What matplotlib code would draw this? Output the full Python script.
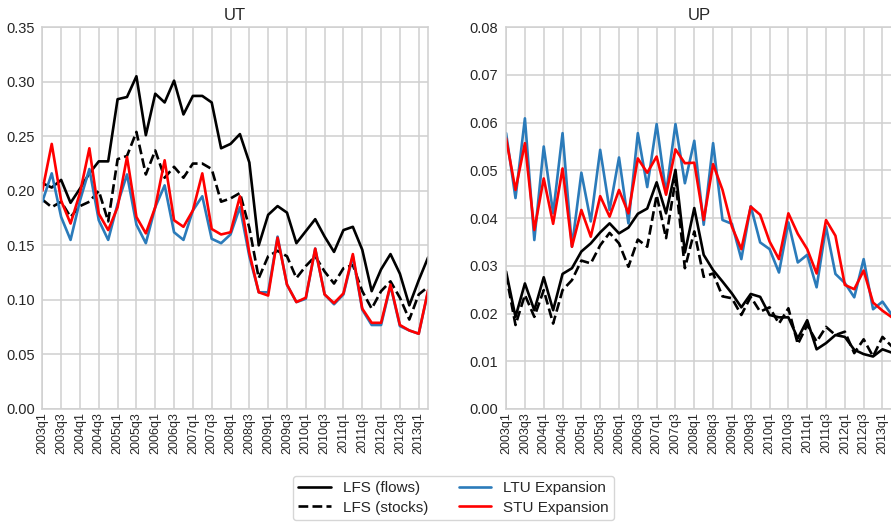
import matplotlib
matplotlib.use("Agg")
import matplotlib.pyplot as plt
import seaborn as sns
import numpy as np
from matplotlib.lines import Line2D

sns.set_style("whitegrid")
plt.rcParams['font.family'] = ['Liberation Sans', 'DejaVu Sans']

quarters = [f"{y}q{q}" for y in range(2003, 2014) for q in range(1, 5)][:42]

ut_lfs_flows = [0.207, 0.203, 0.210, 0.189, 0.202, 0.216, 0.227, 0.227, 0.284, 0.286,
                0.305, 0.251, 0.289, 0.281, 0.301, 0.270, 0.287, 0.287, 0.281, 0.239,
                0.243, 0.252, 0.226, 0.150, 0.178, 0.186, 0.180, 0.152, 0.163, 0.174,
                0.158, 0.144, 0.164, 0.167, 0.146, 0.108, 0.128, 0.142, 0.124, 0.095,
                0.118, 0.139]
ut_lfs_stocks = [0.192, 0.185, 0.190, 0.176, 0.186, 0.190, 0.200, 0.172, 0.229, 0.232,
                 0.254, 0.215, 0.237, 0.212, 0.222, 0.212, 0.225, 0.225, 0.220, 0.190,
                 0.193, 0.198, 0.166, 0.120, 0.140, 0.145, 0.140, 0.120, 0.131, 0.140,
                 0.126, 0.115, 0.129, 0.132, 0.108, 0.092, 0.108, 0.117, 0.102, 0.082,
                 0.105, 0.112]
ut_ltu = [0.190, 0.216, 0.176, 0.155, 0.191, 0.220, 0.173, 0.155, 0.188, 0.215,
          0.169, 0.152, 0.185, 0.205, 0.162, 0.155, 0.182, 0.195, 0.156, 0.152,
          0.160, 0.185, 0.140, 0.107, 0.107, 0.158, 0.114, 0.098, 0.101, 0.147,
          0.105, 0.096, 0.105, 0.140, 0.091, 0.077, 0.077, 0.113, 0.076, 0.072,
          0.069, 0.108]
ut_stu = [0.200, 0.243, 0.191, 0.170, 0.198, 0.239, 0.179, 0.164, 0.185, 0.231,
          0.176, 0.161, 0.185, 0.228, 0.173, 0.167, 0.182, 0.216, 0.165, 0.160,
          0.162, 0.195, 0.143, 0.107, 0.104, 0.157, 0.114, 0.098, 0.102, 0.147,
          0.105, 0.097, 0.106, 0.142, 0.092, 0.079, 0.079, 0.114, 0.077, 0.072,
          0.069, 0.109]

up_lfs_flows = [0.0288, 0.0193, 0.0263, 0.0207, 0.0276, 0.0207, 0.0283, 0.0295, 0.0330, 0.0347,
                0.0370, 0.0389, 0.0368, 0.0380, 0.0409, 0.0420, 0.0475, 0.0410, 0.0501, 0.0328,
                0.0421, 0.0323, 0.0291, 0.0267, 0.0242, 0.0213, 0.0241, 0.0235, 0.0197, 0.0192,
                0.0192, 0.0148, 0.0186, 0.0125, 0.0138, 0.0155, 0.0151, 0.0124, 0.0115, 0.0110,
                0.0125, 0.0118]
up_lfs_stocks = [0.0281, 0.0176, 0.0239, 0.0193, 0.0249, 0.0179, 0.0249, 0.0270, 0.0311, 0.0305,
                 0.0343, 0.0369, 0.0347, 0.0298, 0.0355, 0.0340, 0.0448, 0.0358, 0.0480, 0.0295,
                 0.0372, 0.0277, 0.0284, 0.0236, 0.0232, 0.0197, 0.0235, 0.0204, 0.0213, 0.0179,
                 0.0211, 0.0136, 0.0176, 0.0141, 0.0172, 0.0155, 0.0162, 0.0117, 0.0146, 0.0110,
                 0.0151, 0.0131]
up_ltu = [0.0578, 0.0442, 0.0609, 0.0354, 0.0550, 0.0410, 0.0578, 0.0340, 0.0495, 0.0393,
          0.0543, 0.0417, 0.0527, 0.0389, 0.0578, 0.0465, 0.0597, 0.0452, 0.0597, 0.0473,
          0.0562, 0.0386, 0.0557, 0.0396, 0.0388, 0.0314, 0.0425, 0.0349, 0.0335, 0.0286,
          0.0391, 0.0307, 0.0323, 0.0255, 0.0382, 0.0283, 0.0264, 0.0234, 0.0314, 0.0209,
          0.0225, 0.0197]
up_stu = [0.0567, 0.0459, 0.0557, 0.0375, 0.0483, 0.0388, 0.0504, 0.0340, 0.0417, 0.0361,
          0.0446, 0.0403, 0.0459, 0.0410, 0.0525, 0.0495, 0.0529, 0.0449, 0.0544, 0.0515,
          0.0516, 0.0396, 0.0513, 0.0459, 0.0382, 0.0335, 0.0424, 0.0407, 0.0351, 0.0314,
          0.0410, 0.0367, 0.0335, 0.0284, 0.0396, 0.0363, 0.0260, 0.0251, 0.0290, 0.0223,
          0.0206, 0.0192]

BLUE = '#2b7bba'
RED = '#ff0000'
LW = 1.9

fig = plt.figure(figsize=(8.91, 5.23), dpi=100)
ax1 = fig.add_axes([0.0475, 0.218, 0.433, 0.730])
ax2 = fig.add_axes([0.568, 0.218, 0.433, 0.730])

x = np.arange(len(quarters))

def draw(ax, flows, stocks, ltu, stu, ymax, step, title):
    ax.plot(x, flows, color='black', lw=LW)
    ax.plot(x, stocks, color='black', lw=LW, ls='--')
    ax.plot(x, ltu, color=BLUE, lw=LW)
    ax.plot(x, stu, color=RED, lw=LW)
    ax.set_xlim(0, len(quarters) - 1)
    ax.set_ylim(0, ymax)
    ticks = np.arange(0, ymax + step / 2, step)
    ax.set_yticks(ticks)
    ax.set_yticklabels([f"{v:.2f}" for v in ticks], fontsize=10.5)
    ax.set_xticks(x[::2])
    ax.set_xticklabels(quarters[::2], rotation=90, fontsize=9)
    ax.tick_params(axis='y', pad=5.5, length=0)
    ax.tick_params(axis='x', pad=2, length=0)
    ax.set_title(title, fontsize=12, pad=5)
    ax.grid(True, color='#d0d0d0', lw=1.1)
    for s in ax.spines.values():
        s.set_color('#d0d0d0')
        s.set_linewidth(1.1)

draw(ax1, ut_lfs_flows, ut_lfs_stocks, ut_ltu, ut_stu, 0.35, 0.05, 'UT')
draw(ax2, up_lfs_flows, up_lfs_stocks, up_ltu, up_stu, 0.08, 0.01, 'UP')

handles = [Line2D([], [], color='black', lw=LW),
           Line2D([], [], color='black', lw=LW, ls='--'),
           Line2D([], [], color=BLUE, lw=LW),
           Line2D([], [], color=RED, lw=LW)]
labels = ['LFS (flows)', 'LFS (stocks)', 'LTU Expansion', 'STU Expansion']
fig.legend(handles, labels, ncol=2, loc='center', bbox_to_anchor=(0.509, 0.048),
           fontsize=11, frameon=True, edgecolor='#cccccc', fancybox=True,
           handlelength=2.1, columnspacing=2.0, labelspacing=0.38, borderpad=0.35)

fig.savefig('out.png', dpi=100)
